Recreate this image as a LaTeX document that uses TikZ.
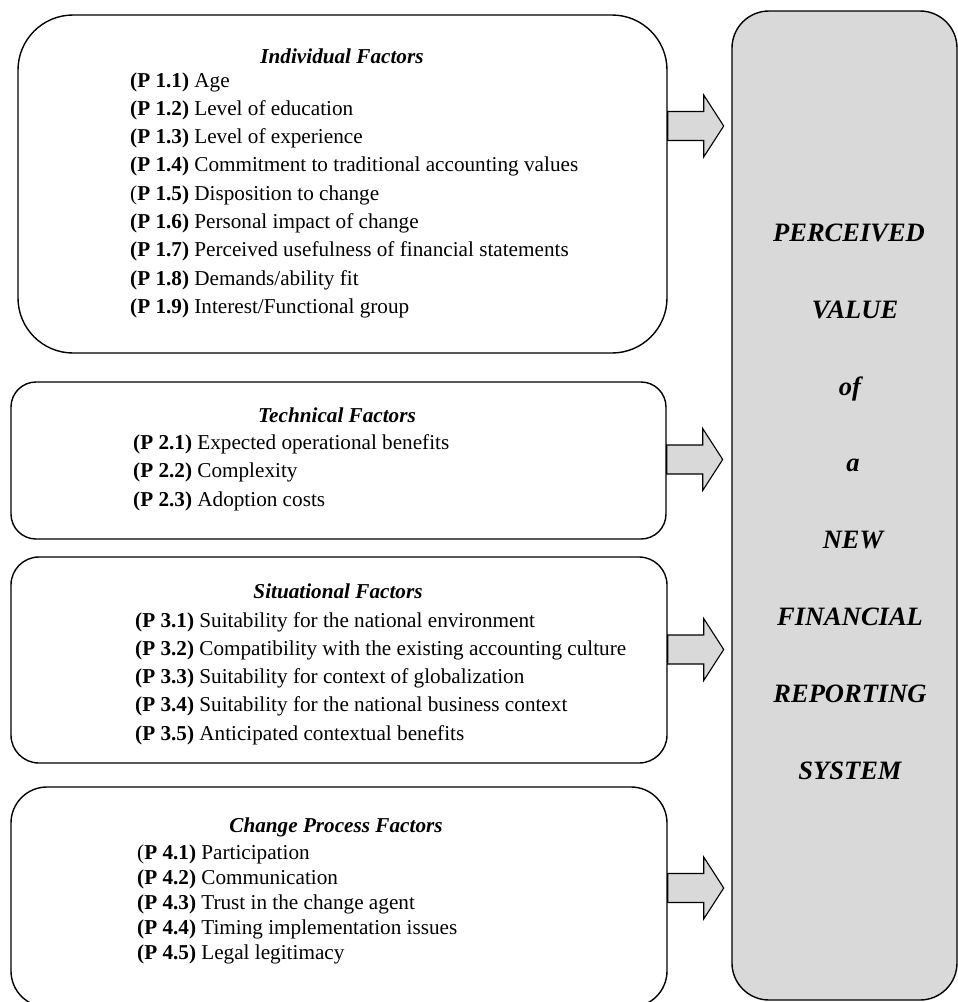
\documentclass[tikz,border=0pt]{standalone}
\usepackage{fontspec}
\setmainfont{Liberation Serif}
\definecolor{boxgray}{RGB}{217,217,217}
\newcommand{\pid}[2]{\textbf{(P #1)} #2}
\newcommand{\pidr}[2]{(\textbf{P #1)} #2}
\begin{document}
\begin{tikzpicture}[x=1pt,y=-1pt,
  fbox/.style={draw, line width=1.4pt, inner sep=0pt},
  grbox/.style={fbox, fill=boxgray},
  barrowst/.style={draw, line width=1.1pt, fill=boxgray, line join=miter},
  item/.style={anchor=base west, inner sep=0pt, font=\fontsize{21.2}{25}\selectfont},
  headtxt/.style={anchor=base, inner sep=0pt, font=\fontsize{21.2}{25}\selectfont\bfseries\itshape},
  bigtxt/.style={anchor=base, inner sep=0pt, font=\fontsize{26.5}{30}\selectfont\bfseries\itshape}]
\useasboundingbox (0,0) rectangle (958,1002);
\fill[white] (0,0) rectangle (958,1002);

% boxes
\node[fbox, minimum width=649pt, minimum height=338pt, rounded corners=55pt] (b1) at (342.5,184) {};
\node[fbox, minimum width=655pt, minimum height=157pt, rounded corners=25pt] (b2) at (338.5,460.5) {};
\node[fbox, minimum width=656pt, minimum height=206pt, rounded corners=28pt] (b3) at (339,660) {};
\node[fbox, minimum width=656pt, minimum height=220pt, rounded corners=36pt] (b4) at (339,897) {};
\node[grbox, minimum width=225pt, minimum height=989pt, rounded corners=37pt] (g) at (844.5,505.5) {};

% block arrows from each box to the grey box
\newcommand{\barr}[2]{%
  \draw[barrowst] (#1.east |- 0,#2) ++(0,-14.5) -- ++(36,0) -- ++(0,-16.5)
    -- ++(20,31) -- ++(-20,31) -- ++(0,-16.5) -- ++(-36,0) -- cycle;}
\barr{b1}{126}
\barr{b2}{459.5}
\barr{b3}{649.5}
\barr{b4}{888}

% Individual factors
\node[headtxt] (h1) at (342,63) {Individual Factors};
\node[item] (i11) at (130,87) {\pid{1.1}{Age}};
\node[item] (i12) at (130,{87+28.3*1}) {\pid{1.2}{Level of education}};
\node[item] (i13) at (130,{87+28.3*2}) {\pid{1.3}{Level of experience}};
\node[item] (i14) at (130,{87+28.3*3}) {\pid{1.4}{Commitment to traditional accounting values}};
\node[item] (i15) at (130,{87+28.3*4}) {\pidr{1.5}{Disposition to change}};
\node[item] (i16) at (130,{87+28.3*5}) {\pid{1.6}{Personal impact of change}};
\node[item] (i17) at (130,{87+28.3*6}) {\pid{1.7}{Perceived usefulness of financial statements}};
\node[item] (i18) at (130,{87+28.3*7}) {\pid{1.8}{Demands/ability fit}};
\node[item] (i19) at (130,{87+28.3*8}) {\pid{1.9}{Interest/Functional group}};

% Technical factors
\node[headtxt] (h2) at (337,422) {Technical Factors};
\node[item] (i21) at (133,449) {\pid{2.1}{Expected operational benefits}};
\node[item] (i22) at (133,{449+28.5*1}) {\pid{2.2}{Complexity}};
\node[item] (i23) at (133,{449+28.5*2}) {\pid{2.3}{Adoption costs}};

% Situational factors
\node[headtxt] (h3) at (338,598) {Situational Factors};
\node[item] (i31) at (135,627) {\pid{3.1}{Suitability for the national environment}};
\node[item] (i32) at (135,{627+28.3*1}) {\pid{3.2}{Compatibility with the existing accounting culture}};
\node[item] (i33) at (135,{627+28.3*2}) {\pid{3.3}{Suitability for context of globalization}};
\node[item] (i34) at (135,{627+28.3*3}) {\pid{3.4}{Suitability for the national business context}};
\node[item] (i35) at (135,{627+28.3*4}) {\pid{3.5}{Anticipated contextual benefits}};

% Change process factors
\node[headtxt] (h4) at (336,832) {Change Process Factors};
\node[item] (i41) at (137,859) {\pidr{4.1}{Participation}};
\node[item] (i42) at (137,{859+25.2*1}) {\pid{4.2}{Communication}};
\node[item] (i43) at (137,{859+25.2*2}) {\pid{4.3}{Trust in the change agent}};
\node[item] (i44) at (137,{859+25.2*3}) {\pid{4.4}{Timing implementation issues}};
\node[item] (i45) at (137,{859+25.2*4}) {\pid{4.5}{Legal legitimacy}};

% Grey box text
\node[bigtxt] (t1) at (849,241.5) {PERCEIVED};
\node[bigtxt] (t2) at (855,{241.5+76.8*1}) {VALUE};
\node[bigtxt] (t3) at (850,{241.5+76.8*2}) {of};
\node[bigtxt] (t4) at (853,{241.5+76.8*3}) {a};
\node[bigtxt] (t5) at (853,{241.5+76.8*4}) {NEW};
\node[bigtxt] (t6) at (850,{241.5+76.8*5}) {FINANCIAL};
\node[bigtxt] (t7) at (850,{241.5+76.8*6}) {REPORTING};
\node[bigtxt] (t8) at (850,{241.5+76.8*7}) {SYSTEM};
\end{tikzpicture}
\end{document}
